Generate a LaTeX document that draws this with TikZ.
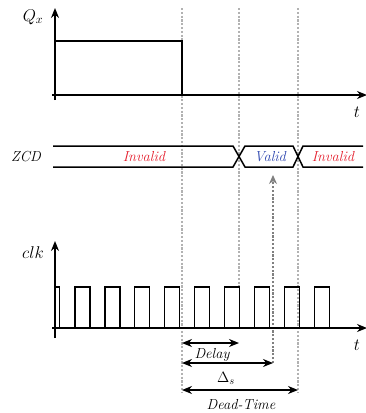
\RequirePackage{fix-cm}
\documentclass[tikz,border=0pt]{standalone}
\usepackage{amsmath,amssymb}
\usepackage{fontspec}
\usepackage{tikz}
\usetikzlibrary{arrows.meta}
\usepackage{xcolor}
\definecolor{badred}{RGB}{228,30,45}
\definecolor{okblue}{RGB}{45,70,175}

\begin{document}
\begin{tikzpicture}[x=1pt,y=-1pt,>={Stealth[length=10pt,width=8pt]},line cap=butt,
  axis/.style={line width=1.4pt,->},
  sig/.style={line width=1.2pt},
  bus/.style={line width=1.5pt},
  guide/.style={gray!60,line width=1.3pt,dash pattern=on 2.2pt off 1.6pt},
  span/.style={line width=1.4pt,<->},
  lbl/.style={font=\fontsize{14.5}{16}\selectfont\itshape},
  sym/.style={font=\fontsize{17}{19}\selectfont}]
\useasboundingbox (0,0) rectangle (365,413);
% guide lines at the switching instants
\draw[guide] (182,8) -- (182,392);
\draw[guide] (239,8) -- (239,288);
\draw[guide] (298,8) -- (298,392);
\draw[guide,-{Stealth[length=9pt,width=8pt]},gray] (273,363) -- (273,175);
% Q_x
\draw[axis] (55,100) -- (55,8);
\draw[axis] (52,95) -- (367,95);
\node[sym] (qx) at (33,17) {$Q_x$};
\node[sym] (tq) at (357,112) {$t$};
\draw[sig] (55,41) -- (182,41) -- (182,95);
% ZCD
\draw[bus] (53,146) -- (233,146) -- (245,167) -- (293,167) -- (303,146) -- (363,146);
\draw[bus] (53,167) -- (233,167) -- (245,146) -- (293,146) -- (303,167) -- (363,167);
\node[lbl] (zcd) at (26,157) {ZCD};
\node[lbl,badred] (inv1) at (144,157) {Invalid};
\node[lbl,okblue] (val) at (270,157) {Valid};
\node[lbl,badred] (inv2) at (333,157) {Invalid};
% clk
\draw[axis] (55,338) -- (55,241);
\draw[axis] (52,328) -- (367,328);
\node[sym] (clk) at (33,253) {$clk$};
\node[sym] (tc) at (357,345) {$t$};
\draw[sig] (55,287) -- (59.5,287) -- (59.5,328);
\foreach \k in {0,...,8}
  \draw[sig] (75+29.9*\k,328) -- (75+29.9*\k,287) -- (90+29.9*\k,287) -- (90+29.9*\k,328);
% intervals
\coordinate (d0) at (182,343);
\coordinate (d1) at (239,343);
\coordinate (s0) at (182,363);
\coordinate (s1) at (273,363);
\coordinate (e0) at (182,390);
\coordinate (e1) at (298,390);
\draw[span] (d0) -- (d1);
\draw[span] (s0) -- (s1);
\draw[span] (e0) -- (e1);
\node[lbl] (delay) at (212,355) {Delay};
\node[font=\fontsize{15}{17}\selectfont] (ds) at (226,378) {$\Delta_s$};
\node[lbl] (dead) at (241,405) {Dead-Time};
\end{tikzpicture}
\end{document}
